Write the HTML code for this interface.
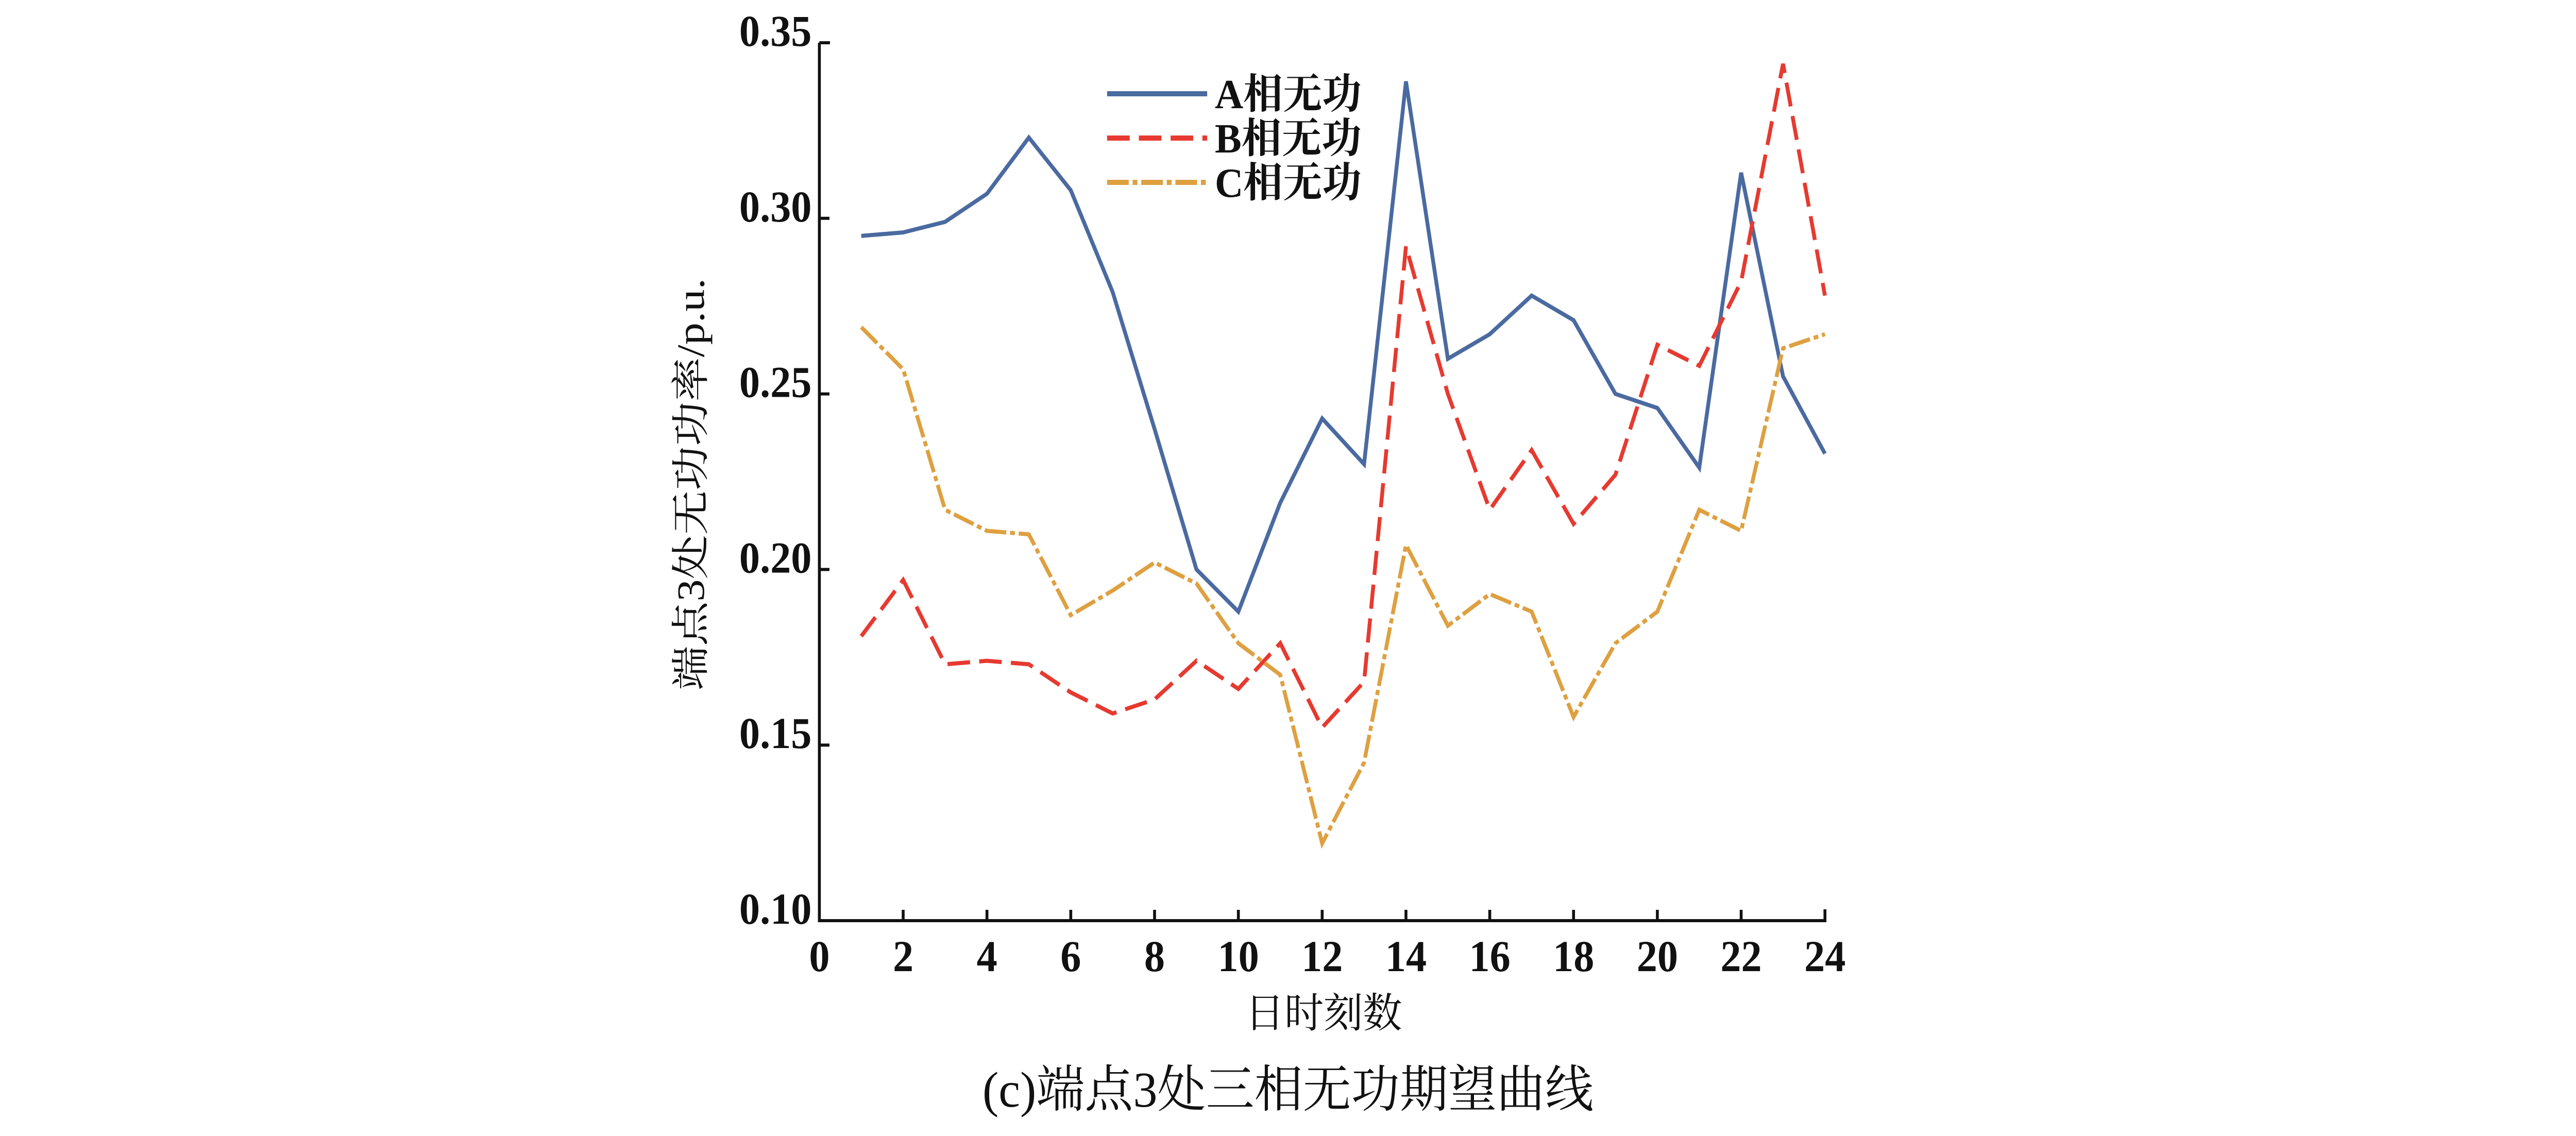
<!DOCTYPE html>
<html><head><meta charset="utf-8"><style>
html,body{margin:0;padding:0;background:#fff;overflow:hidden;width:100%;height:100%;}
svg{display:block;width:100vw;height:100vh;}
</style></head><body>
<svg id="chart" viewBox="0 0 5354 2205" preserveAspectRatio="none" xmlns="http://www.w3.org/2000/svg">
<rect x="0" y="0" width="5354" height="2205" fill="#fff"/>
<g id="series"></g>
<g id="axes"></g>
<g id="legend"></g>
<text x="2751" y="1994" text-anchor="middle" font-family="'Liberation Serif','Noto Serif CJK SC',serif" font-size="80" textLength="326" lengthAdjust="spacingAndGlyphs" fill="#111">日时刻数</text>
<text x="2042" y="2148" font-family="'Liberation Serif','Noto Serif CJK SC',serif" font-size="98" textLength="1270" lengthAdjust="spacingAndGlyphs" fill="#111">(c)端点3处三相无功期望曲线</text>
<g transform="translate(1463,940)"><g transform="rotate(-90)">
<text x="0" y="0" text-anchor="middle" font-family="'Liberation Serif','Noto Serif CJK SC',serif" font-size="80" textLength="800" lengthAdjust="spacingAndGlyphs" fill="#111">端点3处无功功率/p.u.</text>
</g></g>
</svg>
<script>
const hours = [1,2,3,4,5,6,7,8,9,10,11,12,13,14,15,16,17,18,19,20,21,22,23,24];
const seriesA = [0.295,0.296,0.299,0.307,0.323,0.308,0.279,0.240,0.200,0.188,0.219,0.243,0.230,0.339,0.260,0.267,0.278,0.271,0.250,0.246,0.229,0.313,0.255,0.233];
const seriesB = [0.181,0.197,0.173,0.174,0.173,0.165,0.159,0.163,0.174,0.166,0.179,0.155,0.168,0.292,0.250,0.217,0.234,0.213,0.227,0.264,0.258,0.282,0.344,0.278];
const seriesC = [0.269,0.257,0.217,0.211,0.210,0.187,0.194,0.202,0.196,0.179,0.170,0.122,0.145,0.207,0.184,0.193,0.188,0.158,0.179,0.188,0.217,0.211,0.263,0.267];
const xTicks = [0,2,4,6,8,10,12,14,16,18,20,22,24];
const yTicks = [0.10,0.15,0.20,0.25,0.30,0.35];
const legendLabels = ["A相无功","B相无功","C相无功"];

const NS="http://www.w3.org/2000/svg";
const L=1703,R=3793,T=83,B=1787;
const xS=v=>L+(v-0)/(24-0)*(R-L);
const yS=v=>B-(v-0.10)/(0.35-0.10)*(B-T);
function mk(tag,attrs,parent){const e=document.createElementNS(NS,tag);for(const k in attrs)e.setAttribute(k,attrs[k]);parent.appendChild(e);return e;}

const styles=[
 {color:"#4a6aa0",dash:"",name:"series-a-line"},
 {color:"#e63a30",dash:"47 19",name:"series-b-line"},
 {color:"#dea040",dash:"45 8 10 8",name:"series-c-line"}
];
const data=[seriesA,seriesB,seriesC];
const sg=document.getElementById('series');
data.forEach((s,i)=>{
  const pts=s.map((v,j)=>xS(hours[j]).toFixed(1)+","+yS(v).toFixed(1)).join(" ");
  const p=mk('polyline',{points:pts,fill:"none",stroke:styles[i].color,"stroke-width":8,"stroke-linejoin":"miter","stroke-dasharray":styles[i].dash},sg);
  
  
});

const ag=document.getElementById('axes');
const ax=mk('path',{d:`M${L},${T} V${B} H${R} V${B-22} M${L},${T} H${L+22}`,fill:"none",stroke:"#111","stroke-width":6},ag);


xTicks.forEach(t=>{
  const x=xS(t);
  if(t>0&&t<24){const tk=mk('line',{x1:x,y1:B,x2:x,y2:B-21,stroke:"#111","stroke-width":6},ag);
  
  }
  const tx=mk('text',{x:x,y:1885,"text-anchor":"middle","font-family":"'Liberation Serif',serif","font-weight":"bold","font-size":86,fill:"#111"},ag);
  tx.textContent=t;
  
  
});
yTicks.forEach(t=>{
  const y=yS(t);
  if(t>0.1&&t<0.35){const tk=mk('line',{x1:L,y1:y,x2:L+21,y2:y,stroke:"#111","stroke-width":6},ag);
  
  }
  const tx=mk('text',{x:1687,y:y+6,"text-anchor":"end","font-family":"'Liberation Serif',serif","font-weight":"bold","font-size":86,fill:"#111"},ag);
  tx.textContent=t.toFixed(2);
  
  
});

const lg=document.getElementById('legend');
const rowsY=[182,268,354];
legendLabels.forEach((lab,i)=>{
  const ln=mk('line',{x1:2301,y1:rowsY[i],x2:2509,y2:rowsY[i],stroke:styles[i].color,"stroke-width":10,"stroke-dasharray":styles[i].dash},lg);
  
  
  const tx=mk('text',{x:2525,y:rowsY[i]+28,"font-family":"'Liberation Serif','Noto Serif CJK SC',serif","font-weight":"bold","font-size":80,textLength:305,lengthAdjust:"spacingAndGlyphs",fill:"#111"},lg);
  tx.textContent=lab;
  
  
});
</script>
</body></html>
